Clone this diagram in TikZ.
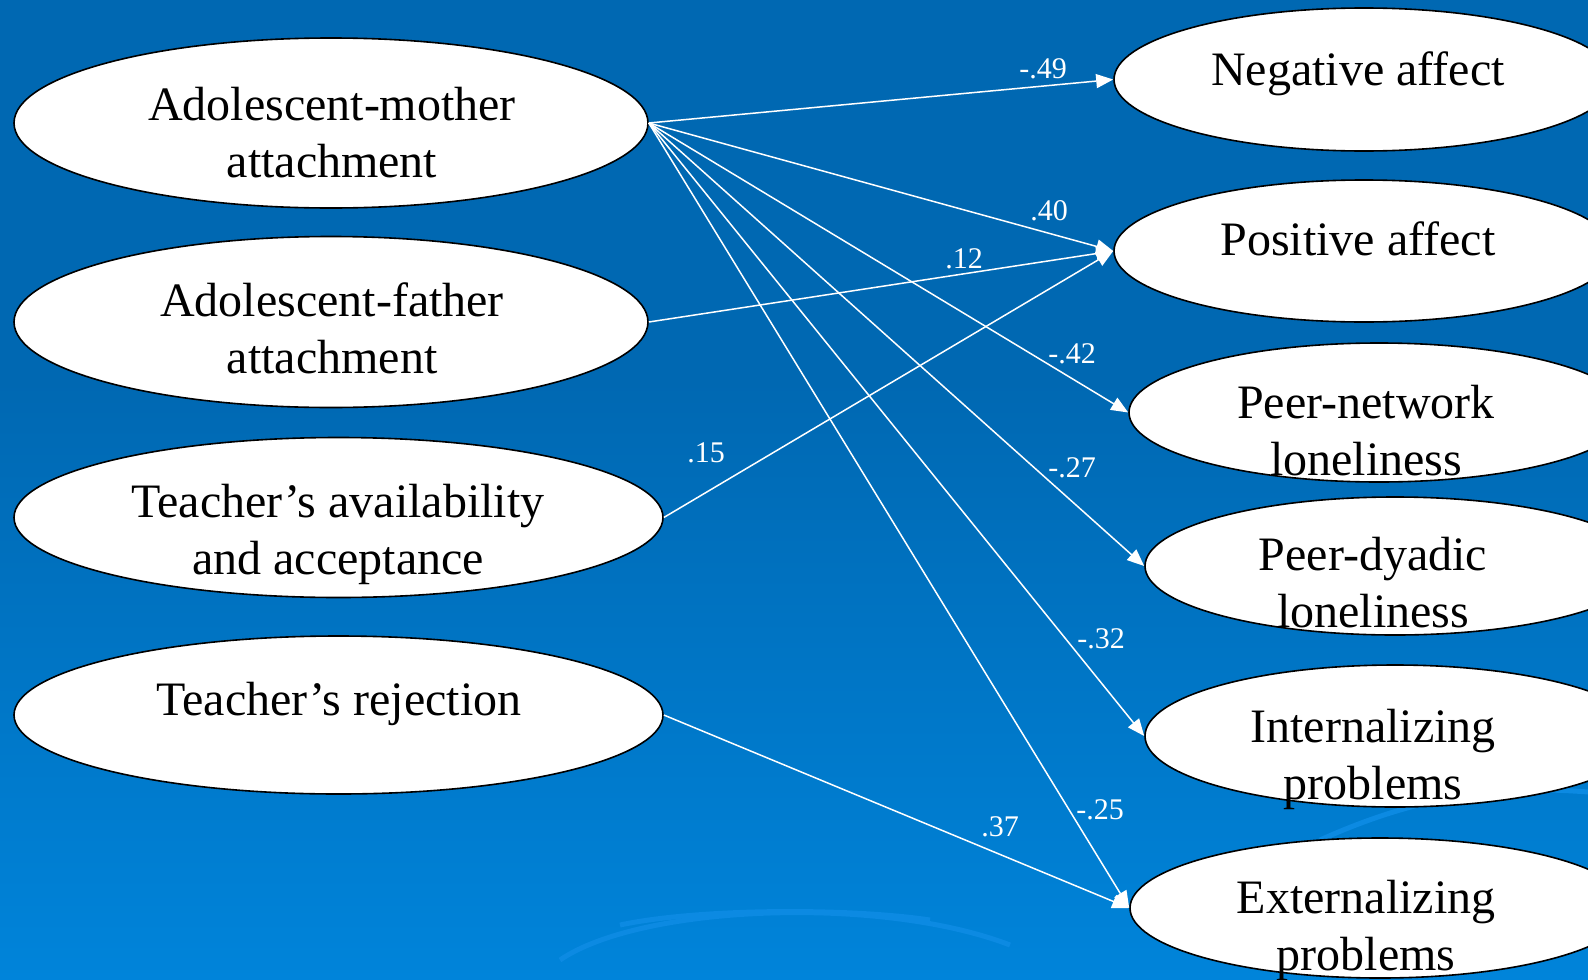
\documentclass[tikz,border=0pt]{standalone}
\usepackage{fontspec}
\setmainfont{Liberation Serif}
\usetikzlibrary{positioning,shapes.geometric,arrows.meta}

\definecolor{bgtop}{RGB}{0,104,178}
\definecolor{bgbot}{RGB}{0,132,218}
\definecolor{swirl}{RGB}{12,138,226}

\begin{document}
\begin{tikzpicture}[x=1pt,y=-1pt,
    factor/.style={ellipse,draw=black,line width=1.6pt,fill=white,inner sep=0pt},
    factortext/.style={font=\fontsize{48}{57}\selectfont,align=center,anchor=base,inner sep=0pt},
    effect/.style={white,line width=1.5pt,-{Triangle[length=17pt,width=14pt]}},
    coef/.style={white,font=\fontsize{30}{30}\selectfont,anchor=base,inner sep=0pt}]

\useasboundingbox (0,0) rectangle (1588,980);
\clip (0,0) rectangle (1588,980);

% background
\fill[bgtop] (0,0) rectangle (1588,980);
\shade[top color=bgtop,bottom color=bgbot] (0,380) rectangle (1588,980);
\draw[swirl,line width=5pt] (560,960) .. controls (640,905) and (880,895) .. (1010,945);
\draw[swirl,line width=5pt] (620,925) .. controls (700,908) and (850,908) .. (930,920);
\draw[swirl,line width=5pt] (1320,840) .. controls (1420,795) and (1500,785) .. (1588,792);

% predictors
\node[factor,minimum width=634pt,minimum height=170pt] (mom) at (331,123) {};
\node[factor,minimum width=634pt,minimum height=171pt] (dad) at (331,322) {};
\node[factor,minimum width=649pt,minimum height=160pt] (tavail) at (338.5,517.5) {};
\node[factor,minimum width=649pt,minimum height=158pt] (trej) at (338.5,715) {};

% outcomes
\node[factor,minimum width=500pt,minimum height=143pt] (neg) at (1364,79.5) {};
\node[factor,minimum width=500pt,minimum height=142pt] (pos) at (1364,251) {};
\node[factor,minimum width=500pt,minimum height=139pt] (pnet) at (1379,412.5) {};
\node[factor,minimum width=500pt,minimum height=138pt] (pdya) at (1395,566) {};
\node[factor,minimum width=500pt,minimum height=142pt] (intp) at (1395,736) {};
\node[factor,minimum width=500pt,minimum height=140pt] (extp) at (1380,908) {};

% base of a two-line text is its last line
\node[factortext] (mom-t) at (332,177) {Adolescent-mother\\attachment};
\node[factortext] (dad-t) at (332,373) {Adolescent-father\\attachment};
\node[factortext] (tavail-t) at (338,574) {Teacher’s availability\\and acceptance};
\node[factortext] (trej-t) at (339,715) {Teacher’s rejection};
\node[factortext] (neg-t) at (1358,85) {Negative affect};
\node[factortext] (pos-t) at (1358,255) {Positive affect};
\node[factortext] (pnet-t) at (1366,475) {Peer-network\\loneliness};
\node[factortext] (pdya-t) at (1373,627) {Peer-dyadic\\loneliness};
\node[factortext] (intp-t) at (1373,799) {Internalizing\\problems};
\node[factortext] (extp-t) at (1366,970) {Externalizing\\problems};

% paths
\foreach \out in {neg,pos,pnet,pdya,intp,extp} {
    \draw[effect] (mom.east) -- (\out.west);
}
\draw[effect] (dad.east) -- (pos.west);
\draw[effect] (tavail.east) -- (pos.west);
\draw[effect] (trej.east) -- (extp.west);

\node[coef] (c-neg) at (1043,78) {-.49};
\node[coef] (c-pos) at (1049,220) {.40};
\node[coef] (c-dad) at (964,268) {.12};
\node[coef] (c-tav) at (706,462) {.15};
\node[coef] (c-pnet) at (1072,363) {-.42};
\node[coef] (c-pdya) at (1072,477) {-.27};
\node[coef] (c-intp) at (1101,648) {-.32};
\node[coef] (c-extp) at (1100,819) {-.25};
\node[coef] (c-trej) at (1000,836) {.37};
\end{tikzpicture}
\end{document}
